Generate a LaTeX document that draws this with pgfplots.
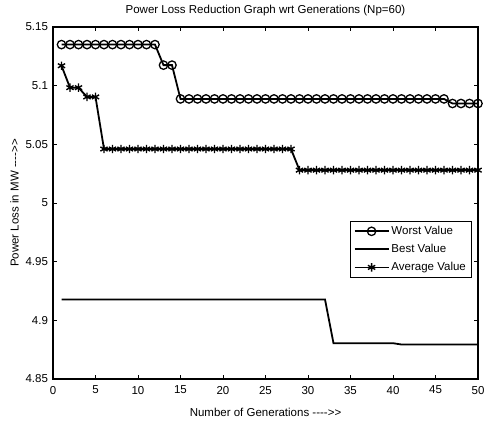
\documentclass[border=0pt]{standalone}
\usepackage{pgfplots}
\pgfplotsset{compat=1.18}
\usepackage{fontspec}
\setmainfont{Liberation Sans}
\newcommand\arr{\hbox{-}\hbox{-}\hbox{-}\hbox{-}\hbox{>}\hbox{>}}
\newcommand\fs{\fontsize{11.5bp}{13.5bp}\selectfont}
\begin{document}
\fs
\begin{tikzpicture}
\begin{axis}[
  scale only axis,
  width=425bp, height=352bp,
  xmin=0, xmax=50, ymin=4.85, ymax=5.15,
  xtick={0,5,...,50},
  ytick={4.85,4.9,4.95,5,5.05,5.1,5.15},
  yticklabels={4.85,4.9,4.95,5,5.05,5.1,5.15},
  tick align=inside,
  major tick length=4bp,
  axis line style={line width=1.2pt},
  tick style={line width=0.6pt, black},
  /pgf/number format/assume math mode=true,
  ticklabel style={font=\fs},
  xticklabel style={yshift=-3bp},
  yticklabel style={xshift=-1bp},
  title={Power Loss Reduction Graph wrt Generations (Np=60)},
  title style={font=\fs, at={(0.5,1)}, anchor=south, yshift=1bp},
  xlabel={Number of Generations \arr},
  ylabel={Power Loss in MW \arr},
  xlabel style={font=\fs, yshift=-6bp},
  ylabel style={font=\fs, yshift=-1bp},
  legend style={at={(0.984,0.449)}, anchor=north east, draw=black, line width=0.7pt,
    font=\fs, inner sep=3bp, row sep=4bp},
  legend cell align=left,
  legend image code/.code={\draw[#1, line width=1.8pt] (0bp,0bp) -- (34bp,0bp);
     \draw[#1, line width=1.8pt] plot coordinates {(17bp,0bp)};},
]
\addplot[black, line width=1.8pt, mark=o, mark size=4.2bp, mark options={line width=1.3pt}] coordinates {
(1,5.135)(2,5.135)(3,5.135)(4,5.135)(5,5.135)(6,5.135)(7,5.135)(8,5.135)(9,5.135)(10,5.135)
(11,5.135)(12,5.135)(13,5.1175)(14,5.1175)(15,5.0887)(16,5.0887)(17,5.0887)(18,5.0887)(19,5.0887)(20,5.0887)
(21,5.0887)(22,5.0887)(23,5.0887)(24,5.0887)(25,5.0887)(26,5.0887)(27,5.0887)(28,5.0887)(29,5.0887)(30,5.0887)
(31,5.0887)(32,5.0887)(33,5.0887)(34,5.0887)(35,5.0887)(36,5.0887)(37,5.0887)(38,5.0887)(39,5.0887)(40,5.0887)
(41,5.0887)(42,5.0887)(43,5.0887)(44,5.0887)(45,5.0887)(46,5.0887)(47,5.0848)(48,5.0848)(49,5.0848)(50,5.0848)
};
\addlegendentry{Worst Value}
\addplot[black, line width=1.8pt] coordinates {
(1,4.9178)(32,4.9178)(33,4.8805)(40,4.8805)(41,4.8794)(50,4.8794)
};
\addlegendentry{Best Value}
\addplot[black, line width=1.8pt, mark=asterisk, mark size=4.2bp, mark options={line width=1.4pt}] coordinates {
(1,5.117)(2,5.0983)(3,5.0983)(4,5.0904)(5,5.0904)(6,5.046)(7,5.046)(8,5.046)(9,5.046)(10,5.046)
(11,5.046)(12,5.046)(13,5.046)(14,5.046)(15,5.046)(16,5.046)(17,5.046)(18,5.046)(19,5.046)(20,5.046)
(21,5.046)(22,5.046)(23,5.046)(24,5.046)(25,5.046)(26,5.046)(27,5.046)(28,5.046)(29,5.028)(30,5.028)
(31,5.028)(32,5.028)(33,5.028)(34,5.028)(35,5.028)(36,5.028)(37,5.028)(38,5.028)(39,5.028)(40,5.028)
(41,5.028)(42,5.028)(43,5.028)(44,5.028)(45,5.028)(46,5.028)(47,5.028)(48,5.028)(49,5.028)(50,5.028)
};
\addlegendentry{Average Value}
\end{axis}
\pgfresetboundingbox
\path (-53bp,-46bp) rectangle (432bp,379bp);
\end{tikzpicture}
\end{document}
